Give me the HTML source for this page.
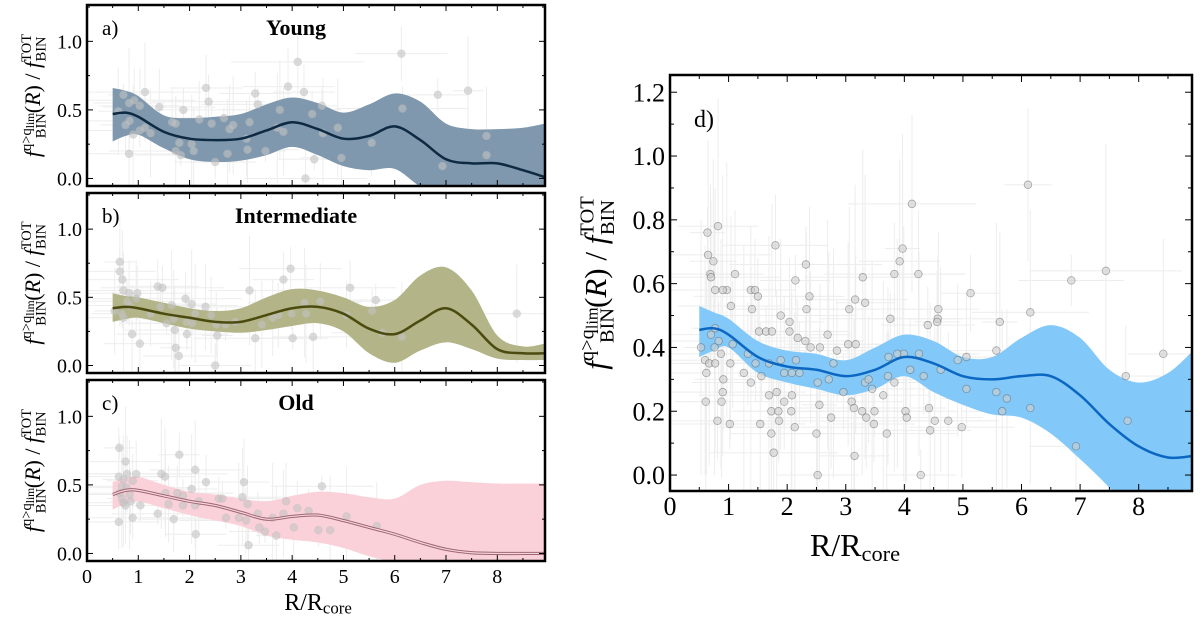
<!DOCTYPE html>
<html><head><meta charset="utf-8"><style>
html,body{margin:0;padding:0;background:#fff;}
svg{display:block;font-family:"Liberation Serif",serif;}
svg text{font-family:"Liberation Serif",serif;}
</style></head><body>
<svg id="fig" width="1200" height="621" viewBox="0 0 1200 621" xmlns="http://www.w3.org/2000/svg" font-family="Liberation Serif, serif"></svg>
<script>
// ---------- DATA ----------
const gridX = [0.5,0.75,1,1.5,2,2.5,3,3.5,4,4.5,5,5.5,6,6.5,7,7.5,8,8.5,8.93];
const youngMean  = [0.47,0.48,0.45,0.34,0.29,0.28,0.29,0.35,0.41,0.36,0.29,0.31,0.38,0.28,0.14,0.11,0.11,0.06,0.01];
const youngUpper = [0.66,0.64,0.60,0.46,0.44,0.45,0.47,0.54,0.59,0.55,0.48,0.54,0.62,0.56,0.40,0.36,0.36,0.37,0.40];
const youngLower = [0.27,0.31,0.32,0.22,0.14,0.12,0.13,0.17,0.23,0.17,0.09,0.06,0.07,-0.06,-0.15,-0.15,-0.15,-0.25,-0.35];
const interMean  = [0.42,0.43,0.42,0.38,0.35,0.32,0.32,0.37,0.42,0.43,0.38,0.27,0.23,0.33,0.42,0.30,0.12,0.09,0.09];
const interUpper = [0.53,0.51,0.50,0.46,0.42,0.40,0.42,0.50,0.56,0.55,0.50,0.43,0.48,0.66,0.72,0.55,0.22,0.14,0.16];
const interLower = [0.32,0.34,0.35,0.31,0.27,0.25,0.24,0.26,0.29,0.31,0.25,0.09,0.02,0.11,0.17,0.12,0.05,0.04,0.04];
const oldMean  = [0.43,0.46,0.46,0.42,0.38,0.35,0.30,0.25,0.27,0.28,0.24,0.19,0.14,0.08,0.03,0.005,0.0,0.0,0.0];
const oldUpper = [0.52,0.55,0.56,0.50,0.45,0.43,0.40,0.38,0.42,0.45,0.44,0.41,0.40,0.50,0.53,0.52,0.51,0.51,0.51];
const oldLower = [0.32,0.36,0.38,0.33,0.28,0.24,0.20,0.13,0.10,0.08,0.04,-0.02,-0.06,-0.06,-0.06,-0.06,-0.06,-0.06,-0.06];
const allMean  = [0.455,0.46,0.44,0.37,0.34,0.33,0.31,0.33,0.37,0.35,0.31,0.30,0.31,0.31,0.25,0.16,0.09,0.055,0.06];
const allUpper = [0.53,0.51,0.49,0.42,0.39,0.38,0.36,0.40,0.44,0.42,0.37,0.37,0.43,0.47,0.43,0.33,0.29,0.32,0.39];
const allLower = [0.37,0.39,0.40,0.32,0.29,0.27,0.25,0.27,0.31,0.26,0.22,0.19,0.18,0.13,0.05,-0.04,-0.15,-0.18,-0.2];

const youngPtsX = [0.71,0.82,1.13,0.61,1.03,0.92,0.75,0.83,1.03,1.13,0.82,0.90,1.24,1.41,1.66,1.73,1.88,1.80,1.83,1.73,2.04,2.08,2.19,2.32,2.37,2.43,2.50,2.67,2.74,2.85,2.78,3.11,3.13,3.17,3.28,3.33,3.48,3.71,3.76,3.83,3.92,4.11,4.23,4.39,4.58,4.43,4.60,4.89,4.96,4.26,5.55,6.13,6.15,6.84,6.93,7.43,7.79,7.79];
const youngPtsY = [0.61,0.55,0.63,0.49,0.53,0.57,0.39,0.42,0.35,0.37,0.18,0.32,0.33,0.52,0.41,0.40,0.50,0.26,0.17,0.20,0.25,0.20,0.43,0.66,0.56,0.40,0.12,0.44,0.18,0.39,0.36,0.29,0.21,0.41,0.62,0.54,0.20,0.37,0.50,0.34,0.67,0.85,0.63,0.47,0.53,0.14,0.33,0.37,0.15,0.0,0.26,0.91,0.51,0.61,0.09,0.64,0.31,0.17];
const interPtsX = [0.64,0.64,0.69,0.54,0.71,0.82,0.98,0.78,0.83,0.68,0.71,0.88,1.03,0.96,1.24,1.38,1.47,1.43,1.55,1.65,1.69,1.71,1.73,1.79,1.92,1.94,1.95,2.05,2.04,2.11,2.31,2.42,2.52,2.54,2.50,2.70,2.89,3.17,3.28,3.41,3.62,3.73,3.83,3.97,3.99,4.01,4.24,4.27,4.41,4.55,5.06,5.13,5.56,5.63,5.76,6.14,8.38];
const interPtsY = [0.76,0.69,0.63,0.40,0.55,0.53,0.53,0.47,0.44,0.38,0.35,0.23,0.16,0.49,0.38,0.58,0.57,0.43,0.31,0.44,0.34,0.26,0.13,0.07,0.49,0.32,0.23,0.31,0.45,0.38,0.43,0.37,0.30,0.22,0.0,0.30,0.32,0.55,0.20,0.30,0.35,0.37,0.63,0.71,0.38,0.20,0.46,0.38,0.21,0.47,0.37,0.57,0.40,0.48,0.24,0.21,0.38];
const oldPtsX = [0.63,0.75,0.62,0.71,0.78,0.96,0.89,0.68,0.77,0.64,0.83,0.68,0.71,0.75,0.85,0.62,0.89,1.04,1.38,1.45,1.52,1.53,1.59,1.69,1.76,1.80,1.87,1.87,2.04,2.11,2.11,2.12,2.18,2.32,2.57,2.64,2.71,2.96,3.03,3.06,3.13,3.10,3.15,3.33,3.36,3.47,3.62,3.69,3.83,3.88,4.03,4.10,4.32,4.51,4.58,4.74,5.06,5.65];
const oldPtsY = [0.77,0.67,0.56,0.54,0.58,0.58,0.53,0.49,0.48,0.44,0.43,0.40,0.37,0.35,0.38,0.23,0.26,0.35,0.29,0.58,0.56,0.44,0.36,0.25,0.44,0.72,0.42,0.35,0.47,0.61,0.35,0.14,0.38,0.52,0.40,0.40,0.26,0.26,0.41,0.52,0.36,0.24,0.06,0.29,0.19,0.16,0.26,0.13,0.29,0.38,0.19,0.33,0.31,0.17,0.49,0.17,0.27,0.20];
const allPtsX = [0.64,0.82,0.65,0.74,0.69,0.70,1.11,1.80,2.32,2.14,3.29,3.97,3.92,4.13,6.11,4.24,3.83,5.13,6.85,7.44,8.42,6.15,5.63,4.58,4.57,4.56,4.40,3.76,3.33,3.16,3.06,2.38,2.33,1.38,1.45,1.50,1.40,0.97,0.90,0.77,1.04,1.89,2.04,2.04,1.52,1.64,1.74,2.69,3.04,3.17,2.40,2.56,2.85,2.18,2.31,0.53,0.60,0.62,0.61,0.88,0.90,0.91,0.81,1.02,1.26,1.38,1.54,1.73,1.77,1.73,1.85,1.86,1.95,2.07,2.13,2.08,2.50,2.55,2.52,2.75,2.96,2.52,2.71,2.79,3.10,3.14,3.15,3.28,3.35,3.48,3.49,3.45,3.64,3.70,3.83,4.02,4.04,4.10,4.33,4.42,4.44,4.52,4.62,4.75,4.91,5.06,4.98,5.06,4.28,5.57,5.57,5.67,5.75,6.15,6.93,7.78,7.81,3.73,3.99,3.88,4.25,3.72,3.33,3.39,0.77,0.83,0.70,0.76,0.87,0.67,0.77,1.03,1.07,1.33,1.46,1.56,1.69,1.69,1.82,1.89,1.95,2.15,2.21,2.08];
const allPtsY = [0.76,0.78,0.69,0.67,0.63,0.62,0.63,0.72,0.66,0.61,0.62,0.71,0.67,0.85,0.91,0.63,0.63,0.57,0.61,0.64,0.38,0.51,0.48,0.52,0.49,0.48,0.47,0.49,0.54,0.55,0.52,0.56,0.52,0.58,0.58,0.56,0.52,0.58,0.58,0.58,0.53,0.50,0.48,0.45,0.45,0.45,0.45,0.44,0.41,0.41,0.40,0.40,0.39,0.43,0.42,0.40,0.36,0.32,0.23,0.23,0.26,0.30,0.17,0.16,0.32,0.29,0.16,0.13,0.07,0.20,0.20,0.17,0.23,0.20,0.15,0.25,0.13,0.22,0.0,0.18,0.26,0.29,0.30,0.35,0.23,0.21,0.06,0.20,0.18,0.16,0.20,0.27,0.25,0.13,0.29,0.20,0.18,0.33,0.31,0.21,0.14,0.17,0.33,0.17,0.36,0.37,0.15,0.27,0.0,0.39,0.26,0.20,0.24,0.21,0.09,0.31,0.17,0.37,0.38,0.38,0.38,0.31,0.29,0.30,0.46,0.42,0.44,0.40,0.38,0.35,0.35,0.35,0.41,0.38,0.35,0.31,0.35,0.25,0.26,0.36,0.32,0.36,0.32,0.32];

const xTicks = [0,1,2,3,4,5,6,7,8];
const leftYTicks = [0.0,0.5,1.0];
const rightYTicks = [0.0,0.2,0.4,0.6,0.8,1.0,1.2];

// ---------- DRAW ----------
const NS = "http://www.w3.org/2000/svg";
const FF = "Liberation Serif, serif";
const svg = document.getElementById('fig');
function mk(tag, attrs, parent){const e=document.createElementNS(NS,tag);for(const k in attrs)e.setAttribute(k,attrs[k]);if(tag==='text')e.setAttribute('font-family',FF);(parent||svg).appendChild(e);return e;}
function smoothPath(pts){
  let d = `M${pts[0][0]},${pts[0][1]}`;
  for(let i=0;i<pts.length-1;i++){
    const p0=pts[Math.max(0,i-1)],p1=pts[i],p2=pts[i+1],p3=pts[Math.min(pts.length-1,i+2)];
    const c1=[p1[0]+(p2[0]-p0[0])/6,p1[1]+(p2[1]-p0[1])/6];
    const c2=[p2[0]-(p3[0]-p1[0])/6,p2[1]-(p3[1]-p1[1])/6];
    d+=` C${c1[0]},${c1[1]} ${c2[0]},${c2[1]} ${p2[0]},${p2[1]}`;
  }
  return d;
}
function ylabel(g,cx,cy,fs){
  const t = mk('text',{x:0,y:0,'font-size':fs,'text-anchor':'middle',transform:`translate(${cx},${cy}) rotate(-90)`},g);
  
  
  const s=fs*0.66;
  t.innerHTML = `<tspan font-style="italic">f</tspan><tspan font-size="${s}" dy="${-fs*0.4}">q&gt;q</tspan><tspan font-size="${s*0.8}" dy="${fs*0.12}">lim</tspan><tspan font-size="${s}" dx="${-s*1.75}" dy="${fs*0.52}">BIN</tspan><tspan dy="${-fs*0.24}">(</tspan><tspan font-style="italic">R</tspan><tspan>)</tspan><tspan> / </tspan><tspan font-style="italic">f</tspan><tspan font-size="${s}" dy="${-fs*0.4}">TOT</tspan><tspan font-size="${s}" dx="${-s*1.9}" dy="${fs*0.66}">BIN</tspan>`;
}
let clipId=0;
function panel(o){
  const g = mk('g',{});
  
  
  const {L,R,T,B,xmin,xmax,ymin,ymax}=o;
  const X=v=>L+(v-xmin)/(xmax-xmin)*(R-L);
  const Y=v=>B-(v-ymin)/(ymax-ymin)*(B-T);
  const cid='c'+(clipId++);
  const cp=mk('clipPath',{id:cid},g); mk('rect',{x:L,y:T,width:R-L,height:B-T},cp);
  const inner=mk('g',{'clip-path':`url(#${cid})`},g);
  const eb=mk('g',{stroke:'#d8d8d8','stroke-width':1,opacity:0.45},inner);
  
  
  o.px.forEach((x,i)=>{
    const hx=0.3+((i*37)%11)/10, hy=0.08+((i*53)%9)/25;
    mk('line',{x1:X(Math.max(0,x-hx)),x2:X(x+hx),y1:Y(o.py[i]),y2:Y(o.py[i])},eb);
    mk('line',{x1:X(x),x2:X(x),y1:Y(o.py[i]-hy),y2:Y(o.py[i]+hy)},eb);
  });
  const up=gridX.map((x,i)=>[X(x),Y(o.up[i])]);
  const lo=gridX.map((x,i)=>[X(x),Y(o.lo[i])]).reverse();
  const band=mk('path',{d:smoothPath(up)+' '+smoothPath(lo).replace('M','L')+' Z',fill:o.band,stroke:'none'},inner);
  
  
  const pg=mk('g',{},inner);
  
  
  o.px.forEach((x,i)=>{
    const c=mk('circle',{cx:X(x),cy:Y(o.py[i]),r:o.r,fill:o.ptFill,stroke:o.ptStroke,'stroke-width':0.8,opacity:o.ptOp},pg);
    
    
  });
  const mp=smoothPath(gridX.map((x,i)=>[X(x),Y(o.mean[i])]));
  if(o.double){
    mk('path',{d:mp,fill:'none',stroke:o.line,'stroke-width':3.2},inner);
    const ln=mk('path',{d:mp,fill:'none',stroke:'#f6d5dc','stroke-width':1.2},inner);
    
    
  } else {
    const ln=mk('path',{d:mp,fill:'none',stroke:o.line,'stroke-width':o.lw},inner);
    
    
  }
  const tk=mk('g',{stroke:'#000','stroke-width':1},g);
  
  
  for(let v=0;v<=xmax;v+=0.5){
    const len=(Math.abs(v-Math.round(v))<1e-6)?o.maj:o.min;
    mk('line',{x1:X(v),x2:X(v),y1:B,y2:B-len},tk);
    mk('line',{x1:X(v),x2:X(v),y1:T,y2:T+len},tk);
  }
  for(let k=Math.ceil(ymin/o.ymin_step);k*o.ymin_step<=ymax;k++){
    const v=k*o.ymin_step;
    const isMaj=o.yt.some(t=>Math.abs(t-v)<1e-6);
    const len=isMaj?o.maj:o.min;
    mk('line',{x1:L,x2:L+len,y1:Y(v),y2:Y(v)},tk);
    mk('line',{x1:R,x2:R-len,y1:Y(v),y2:Y(v)},tk);
  }
  const fr=mk('rect',{x:L,y:T,width:R-L,height:B-T,fill:'none',stroke:'#000','stroke-width':2.5},g);
  
  
  o.yt.forEach(v=>{
    const t=mk('text',{x:L-5,y:Y(v)+o.fs*0.35,'font-size':o.fs,'text-anchor':'end'},g);
    t.textContent=v.toFixed(1);
    
    
  });
  if(o.showX){
    xTicks.forEach(v=>{
      const t=mk('text',{x:X(v),y:B+o.xtOff,'font-size':o.fs,'text-anchor':'middle'},g);
      t.textContent=v;
      
      
    });
    const xl=mk('text',{x:o.xlX,y:o.xlY,'font-size':o.xfs,'text-anchor':'middle'},g);
    xl.innerHTML=`R/R<tspan font-size="${o.xfs*0.7}" dy="${o.xfs*0.15}">core</tspan>`;
    
    
  }
  const pl=mk('text',{x:L+o.plx,y:T+o.ply,'font-size':o.pfs},g);
  pl.textContent=o.letter;
  
  
  if(o.title){
    const tt=mk('text',{x:(L+R)/2-20,y:T+30,'font-size':22,'font-weight':'bold','text-anchor':'middle'},g);
    tt.textContent=o.title;
    
    
  }
  ylabel(g,o.ylx,(T+B)/2,o.yfs);
}
const leftBase={L:87,R:545,xmin:0,xmax:8.93,ymin:-0.055,ymax:1.265,yt:leftYTicks,ymin_step:0.25,maj:6,min:3,fs:20,r:3.8,
  ptFill:'#c4c4c4',ptStroke:'#bdbdbd',ptOp:0.6,lw:2.5,plx:15,ply:30,pfs:21,ylx:40,yfs:22,xtOff:22};
panel(Object.assign({},leftBase,{name:'panel-a-young',T:5,B:186,letter:'a)',title:'Young',band:'#7f98ae',line:'#0e2a42',mean:youngMean,up:youngUpper,lo:youngLower,px:youngPtsX,py:youngPtsY}));
panel(Object.assign({},leftBase,{name:'panel-b-intermediate',T:193,B:373,letter:'b)',title:'Intermediate',band:'#b3b487',line:'#4b4b10',mean:interMean,up:interUpper,lo:interLower,px:interPtsX,py:interPtsY}));
panel(Object.assign({},leftBase,{name:'panel-c-old',T:380,B:561,letter:'c)',title:'Old',band:'#fad1d9',line:'#9e6672',double:true,mean:oldMean,up:oldUpper,lo:oldLower,px:oldPtsX,py:oldPtsY,showX:true,xlX:318,xlY:610,xfs:24}));
panel({name:'panel-d-all',L:670,R:1192,T:75,B:491,xmin:0,xmax:8.91,ymin:-0.05,ymax:1.254,yt:rightYTicks,ymin_step:0.1,maj:7,min:4,fs:26,r:3.8,
  ptFill:'#cfcfcf',ptStroke:'#6e6e6e',ptOp:0.6,lw:2.5,band:'#82c8f9',line:'#0b67c2',mean:allMean,up:allUpper,lo:allLower,px:allPtsX,py:allPtsY,
  showX:true,xtOff:24,xlX:855,xlY:556,xfs:32,letter:'d)',plx:24,ply:52,pfs:24,ylx:606,yfs:31});
</script>
</body></html>
